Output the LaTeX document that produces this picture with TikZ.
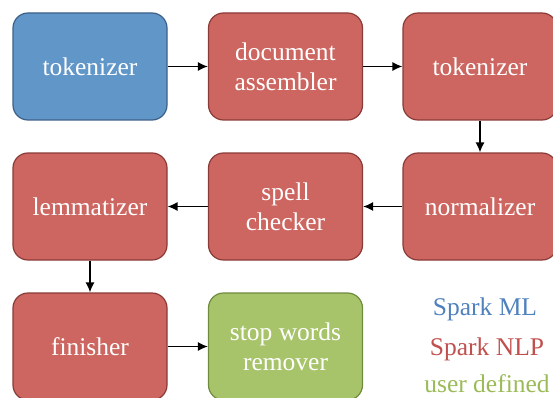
\documentclass[tikz,border=0pt]{standalone}
\usepackage{fontspec}
\setmainfont{Liberation Serif}
\usetikzlibrary{arrows.meta}
\definecolor{mlfill}{HTML}{6196C9}
\definecolor{mldraw}{HTML}{3D5F88}
\definecolor{nlpfill}{HTML}{CD6660}
\definecolor{nlpdraw}{HTML}{8A3B37}
\definecolor{udfill}{HTML}{A8C46A}
\definecolor{uddraw}{HTML}{6F8B3E}
\definecolor{mltext}{HTML}{4F81BD}
\definecolor{nlptext}{HTML}{C0504D}
\definecolor{udtext}{HTML}{9BBB59}

\begin{document}
\begin{tikzpicture}[x=1pt,y=-1pt]
\tikzstyle{stage}=[draw, rectangle, rounded corners=15pt, line width=1.2pt, align=center, text=white, minimum width=154pt, minimum height=107pt, font=\fontsize{25.5}{30}\selectfont]
\tikzstyle{ml}=[stage, fill=mlfill, draw=mldraw]
\tikzstyle{nlp}=[stage, fill=nlpfill, draw=nlpdraw]
\tikzstyle{ud}=[stage, fill=udfill, draw=uddraw]
\tikzstyle{flow}=[-{Latex[length=10pt,width=9pt]}, line width=1.3pt]
\tikzstyle{legend}=[font=\fontsize{25.5}{28}\selectfont]
\useasboundingbox (0,0) rectangle (553,398);

% first row
\node[ml] (tok) at (90,66.5) {tokenizer};
\node[nlp] (assembler) at (285.5,66.5) {document\\assembler};
\node[nlp] (tokNlp) at (480,66.5) {tokenizer};

% second row, right to left
\node[nlp] (normalizer) at (480,206.5) {normalizer};
\node[nlp] (spell) at (285.5,206.5) {spell\\checker};
\node[nlp] (lemma) at (90,206.5) {lemmatizer};

% third row
\node[nlp] (finisher) at (90,346.5) {finisher};
\node[ud] (stopwords) at (285.5,346.5) {stop words\\remover};

% pipeline
\draw[flow] (tok.east) -- (assembler.west);
\draw[flow] (assembler.east) -- (tokNlp.west);
\draw[flow] (tokNlp.south) -- (normalizer.north);
\draw[flow] (normalizer.west) -- (spell.east);
\draw[flow] (spell.west) -- (lemma.east);
\draw[flow] (lemma.south) -- (finisher.north);
\draw[flow] (finisher.east) -- (stopwords.west);

% legend
\node[legend, text=mltext] (lgML) at (485,309) {Spark ML};
\node[legend, text=nlptext] (lgNLP) at (487,349) {Spark NLP};
\node[legend, text=udtext] (lgUD) at (487,384) {user defined};
\end{tikzpicture}
\end{document}
